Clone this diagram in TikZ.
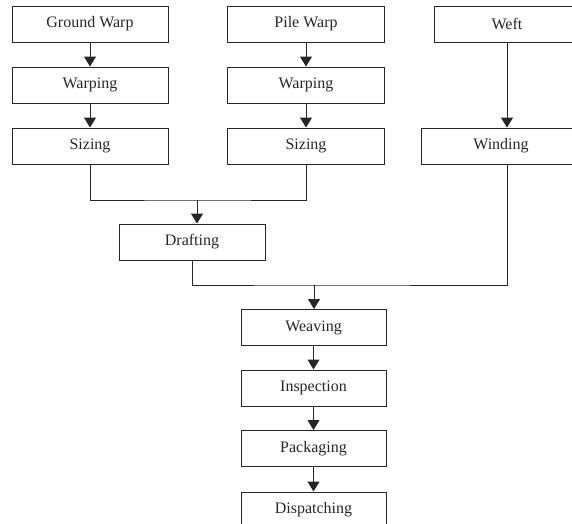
\documentclass[tikz,border=0pt]{standalone}
\usepackage{fontspec}
\setmainfont{Liberation Serif}
\usetikzlibrary{arrows.meta}

\tikzset{
  box/.style={draw, line width=1pt, minimum height=36pt, inner sep=0pt,
    font=\fontsize{16}{18}\selectfont},
  arr/.style={line width=1pt, -{Triangle[width=12pt,length=10pt]}},
  line/.style={line width=1pt}
}

\begin{document}
\begin{tikzpicture}[x=1pt,y=-1pt,black!85]
    \useasboundingbox (0,0) rectangle (572,523);
    \clip (0,0) rectangle (572,523);
    % the three yarn columns
    \node[box, minimum width=156pt] (gw) at (90,24) {Ground Warp};
    \node[box, minimum width=156pt] (warpA) at (90,85) {Warping};
    \node[box, minimum width=156pt] (sizeA) at (90,146) {Sizing};
    \node[box, minimum width=157pt] (pw) at (306,24) {Pile Warp};
    \node[box, minimum width=157pt] (warpB) at (306,85) {Warping};
    \node[box, minimum width=157pt] (sizeB) at (306,146) {Sizing};
    \node[box, minimum width=146pt] (weft) at (507,24) {Weft};
    \node[box, minimum width=160pt] (wind) at (501,146) {Winding};
    \node[box, minimum width=146pt] (draft) at (192,242) {Drafting};
    % main line
    \node[box, minimum width=145pt] (weave) at (313.5,327.5) {Weaving};
    \node[box, minimum width=145pt] (insp) at (313.5,388) {Inspection};
    \node[box, minimum width=145pt] (pack) at (313.5,448.5) {Packaging};
    \node[box, minimum width=145pt] (disp) at (313.5,510) {Dispatching};
    \coordinate (join) at (197,200);
    \coordinate (merge) at (314,285);

    \draw[arr] (gw)--(warpA);
    \draw[arr] (warpA)--(sizeA);
    \draw[arr] (pw)--(warpB);
    \draw[arr] (warpB)--(sizeB);
    \draw[arr] (weft.south)--(weft.south |- wind.north);
    \draw[line] (sizeA.south) |- (join) -| (sizeB.south);
    \draw[arr] (join)--(join |- draft.north);
    \draw[line] (draft.south) |- (merge) -| (weft.south |- wind.south);
    \draw[arr] (merge)--(merge |- weave.north);
    \draw[arr] (weave)--(insp);
    \draw[arr] (insp)--(pack);
    \draw[arr] (pack)--(disp);
\end{tikzpicture}
\end{document}
